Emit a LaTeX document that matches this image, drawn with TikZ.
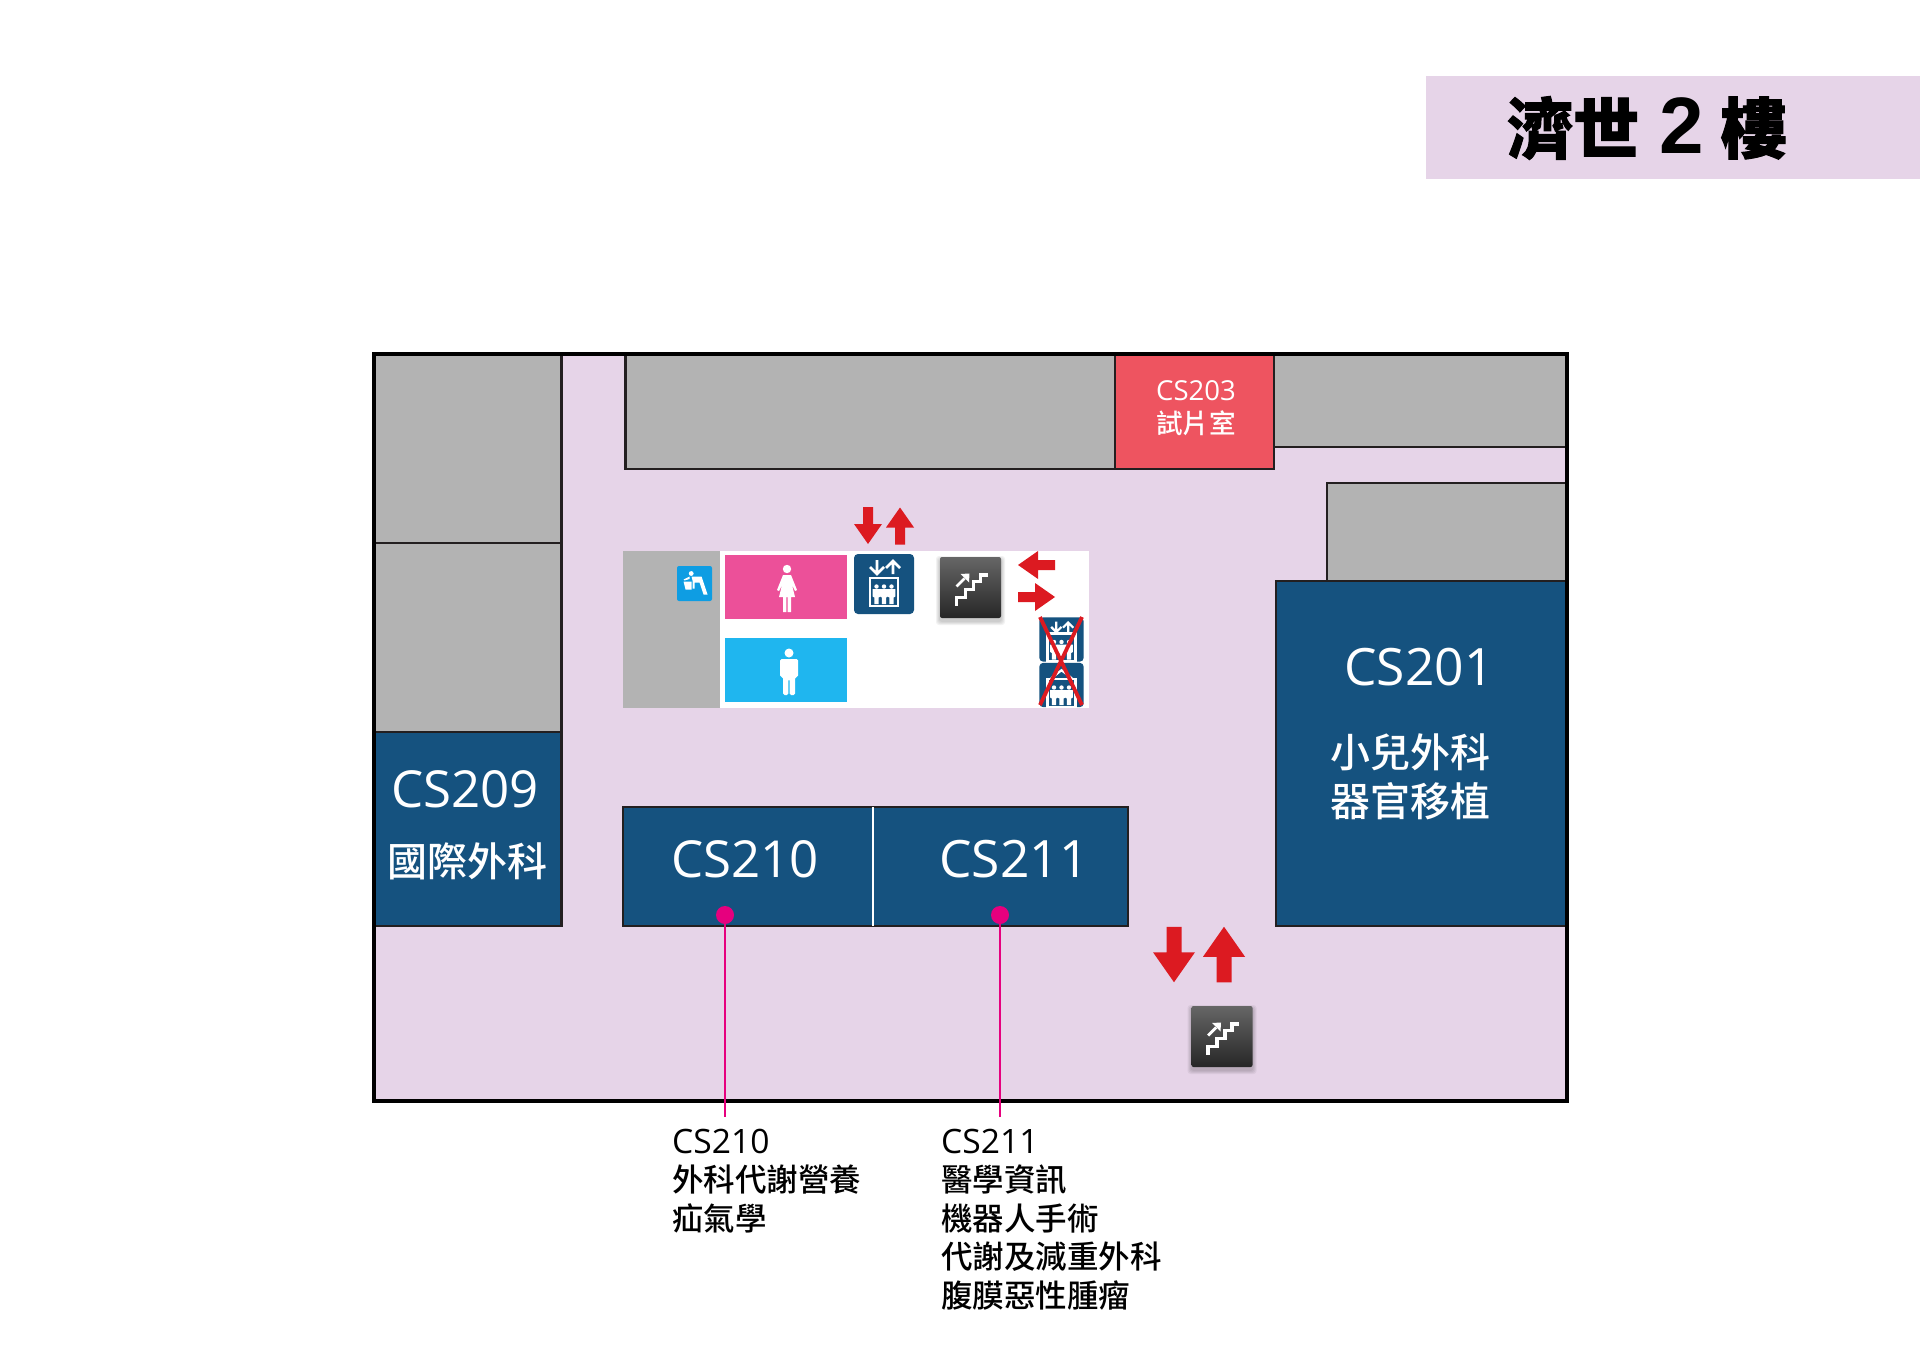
\documentclass[tikz,border=0pt]{standalone}
\usepackage{fontspec}
\setmainfont{Open Sans}
\newfontfamily\cjk{Noto Sans CJK TC Medium}
\newfontfamily\titlecjk[BoldFeatures={FakeBold=1.6}]{Noto Sans CJK TC}
\newfontfamily\titlenum{Liberation Sans}
\newcommand{\fs}[1]{\fontsize{#1}{#1}\selectfont}
\definecolor{lilac}{HTML}{E6D4E8}
\definecolor{wallgrey}{HTML}{B3B3B3}
\definecolor{roomblue}{HTML}{15527F}
\definecolor{roomred}{HTML}{EE5460}
\definecolor{ladypink}{HTML}{EC5099}
\definecolor{mancyan}{HTML}{1FB6EF}
\definecolor{fountain}{HTML}{0E9DE3}
\definecolor{arrowred}{HTML}{DC1A21}
\definecolor{leadpink}{HTML}{E6007E}
\definecolor{wallline}{HTML}{231F20}
\tikzset{
	x=1pt,y=-1pt,
	room/.style={draw=wallline,line width=2.2pt},
	greyroom/.style={room,fill=wallgrey},
	blueroom/.style={room,fill=roomblue},
	roomtxt/.style={text=white,inner sep=0pt},
	labeltxt/.style={inner sep=0pt,anchor=north west,align=left,font=\fontsize{31.5}{38.6}\selectfont},
	leadline/.style={draw=leadpink,line width=2pt},
	leaddot/.style={circle,fill=leadpink,inner sep=0pt,minimum size=18pt},
	crossline/.style={draw=arrowred,line width=3.8pt},
	redarrow/.pic={
		\fill[arrowred] (-5,-18.5) -- (5,-18.5) -- (5,-1.5) -- (14,-1.5) -- (0,18.5) -- (-14,-1.5) -- (-5,-1.5) -- cycle;
	},
	womanicon/.pic={
		\fill[white] (0,-21) circle (4.2);
		\fill[white] (-4,-15) -- (4,-15) -- (10,0) -- (8,1) -- (5,-5) -- (8,7) -- (4,7) -- (4,22) -- (0.7,22) -- (0.7,7) -- (-0.7,7) -- (-0.7,22) -- (-4,22) -- (-4,7) -- (-8,7) -- (-5,-5) -- (-8,1) -- (-10,0) -- cycle;
	},
	manicon/.pic={
		\fill[white] (0,-21) circle (4.5);
		\fill[white,rounded corners=1.5] (-9,-15) -- (9,-15) -- (9,3) -- (6,3) -- (6,21) -- (0.6,21) -- (0.6,5) -- (-0.6,5) -- (-0.6,21) -- (-6,21) -- (-6,3) -- (-9,3) -- cycle;
	},
	cabin/.pic={
		\draw[white] (-14,-6) rectangle (14,22);
		\foreach \px in {-7.5,0,7.5} {
			\fill[white] (\px,2.5) circle (2.2);
			\fill[white] (\px-3.8,5) -- (\px+3.8,5) -- (\px+3.8,12.5) -- (\px+2.2,13.5) -- (\px+2.2,20) -- (\px-2.2,20) -- (\px-2.2,13.5) -- (\px-3.8,12.5) -- cycle;
		}
	},
	lifticon/.pic={
		\fill[roomblue,rounded corners=4] (-30,-30) rectangle (30,30);
		\pic {cabin};
		\draw[white] (-7,-24) -- (-7,-10) (-14,-17) -- (-7,-10) -- (0,-17);
		\draw[white] (9,-10) -- (9,-23) (2,-16) -- (9,-23) -- (16,-16);
	},
	roofliftbox/.pic={
		\fill[roomblue,rounded corners=4] (-30,-30) rectangle (30,30);
		\draw[white] (-14,-9) -- (0,-20) -- (14,-9);
		\pic {cabin};
	},
	stairsicon/.pic={
		\foreach \sp in {4,3,2,1}
			\fill[black,opacity=.05,rounded corners=3] (-30.5-\sp,-30.5-\sp+3) rectangle (30.5+\sp,30.5+\sp+3);
		\shade[top color=black!60!white,bottom color=black!85!white,rounded corners=2] (-30.5,-30.5) rectangle (30.5,30.5);
		\draw[white,line width=3.8pt] (-14,18) -- (-14,10) -- (-5,10) -- (-5,2) -- (3,2) -- (3,-6) -- (10,-6) -- (10,-12.5) -- (17,-12.5);
		\draw[white,line width=2.8pt] (-14,-1) -- (-6,-9);
		\fill[white] (-1,-14) -- (-10,-13.5) -- (-1.5,-5) -- cycle;
	},
	drinkicon/.pic={
		\fill[fountain,rounded corners=2] (-17.5,-17.5) rectangle (17.5,17.5);
		\fill[white] (-3.3,-10) circle (2.4);
		\fill[white] (-3,-7) -- (7,-7) -- (13,11) -- (9,11) -- (5,-1) -- (0,-1) -- (0,5) -- (-2,5) -- (-2,-3) -- cycle;
		\fill[white] (-11,-2) -- (-3,-2) -- (-3,6) -- (-9,6) -- cycle;
		\fill[white] (-11,-4) -- (-5,-7) -- (-5,-4.5) -- (-10,-3) -- cycle;
	},
}
\begin{document}
\begin{tikzpicture}
	\useasboundingbox (0,0) rectangle (1920,1357);
	\fill[lilac] (1426,75.5) rectangle (1920,178.5);
	\node[inner sep=0pt] (titletxt) at (1647,128) {\fs{66}\titlecjk\bfseries 濟世\hspace{20pt}{\fs{80}\titlenum\bfseries 2}\hspace{17pt}樓};

	\fill[lilac] (374,354) rectangle (1567,1101);
	\fill[wallgrey] (623,551) rectangle (720,708);
	\fill[white] (720,551) rectangle (1089,708);
	\fill[ladypink] (725,555) rectangle (847,619);
	\fill[mancyan] (725,638) rectangle (847,702);

	\draw[greyroom] (374,354) rectangle (561.5,543);
	\draw[greyroom] (374,543) rectangle (561.5,732);
	\draw[greyroom] (625.5,354) rectangle (1115,469);
	\draw[room,fill=roomred] (1115,354) rectangle (1274,469);
	\draw[greyroom] (1274,354) rectangle (1567,447);
	\draw[greyroom] (1327,483) rectangle (1567,581);
	\draw[blueroom] (1276,581) rectangle (1567,926);
	\draw[blueroom] (374,732) rectangle (561.5,926);
	\draw[blueroom] (623,807) rectangle (1128,926);
	\draw[white,line width=1.5pt] (873,807) -- (873,926);
	\draw[black,line width=4.5pt] (374,354) rectangle (1567,1101);

	\node[roomtxt] (cs203num) at (1196,391) {\fs{27.5}CS203};
	\node[roomtxt] (cs203txt) at (1196,423) {\fs{26.6}\cjk 試片室};
	\node[roomtxt] (cs201num) at (1419,667) {\fs{51.5}CS201};
	\node[roomtxt] (cs201txta) at (1410,752) {\fs{40}\cjk 小兒外科};
	\node[roomtxt] (cs201txtb) at (1410,801) {\fs{40}\cjk 器官移植};
	\node[roomtxt] (cs209num) at (465,789) {\fs{51}CS209};
	\node[roomtxt] (cs209txt) at (467,861) {\fs{40}\cjk 國際外科};
	\node[roomtxt] (cs210num) at (745,859) {\fs{51}CS210};
	\node[roomtxt] (cs211num) at (1014,859) {\fs{51.5}CS211};

	\pic at (694.5,583.5) {drinkicon};
	\pic at (787,590) {womanicon};
	\pic at (789,674) {manicon};
	\pic[line width=2.8pt] at (884,584) {lifticon};
	\pic at (970.5,587.5) {stairsicon};
	\pic at (1222,1036.5) {stairsicon};
	\pic[scale=.74,line width=2.2pt] at (1061.5,639.5) {lifticon};
	\pic[scale=.74,line width=2.2pt] at (1061.5,685) {roofliftbox};
	\draw[crossline] (1040,617) -- (1082,705);
	\draw[crossline] (1082,617) -- (1040,705);

	\pic at (868,525.5) {redarrow};
	\pic[rotate=180] at (900,526) {redarrow};
	\pic[rotate=-90] at (1036.5,565) {redarrow};
	\pic[rotate=90] at (1036.5,597) {redarrow};
	\pic[scale=1.5] at (1174,954.5) {redarrow};
	\pic[scale=1.5,rotate=180] at (1224,954.5) {redarrow};

	\node[leaddot] (dot210) at (725,915) {};
	\node[leaddot] (dot211) at (1000,915) {};
	\coordinate (end210) at (725,1117);
	\coordinate (end211) at (1000,1117);
	\draw[leadline] (dot210) -- (end210);
	\draw[leadline] (dot211) -- (end211);

	\node[labeltxt] (label210) at (672,1128.5) {{\fontsize{33.6}{38.6}\selectfont CS210}\\\cjk 外科代謝營養\\\cjk 疝氣學};
	\node[labeltxt] (label211) at (941,1128.5) {{\fontsize{33.6}{38.6}\selectfont CS211}\\\cjk 醫學資訊\\\cjk 機器人手術\\\cjk 代謝及減重外科\\\cjk 腹膜惡性腫瘤};
\end{tikzpicture}
\end{document}
